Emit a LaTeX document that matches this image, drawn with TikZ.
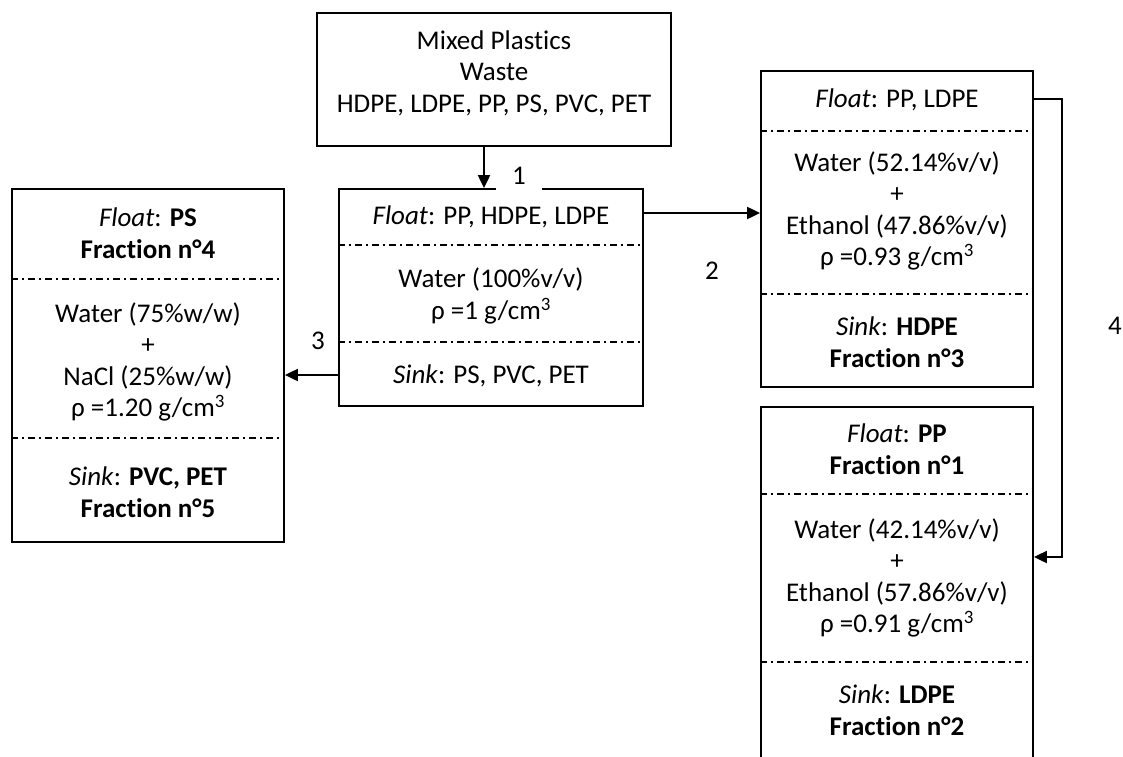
\documentclass[tikz,border=0pt]{standalone}
\usepackage{fontspec}
\setmainfont[Ligatures=NoCommon]{Carlito}
\usetikzlibrary{arrows.meta}

\begin{document}
\begin{tikzpicture}[x=1pt,y=-1pt,>={Triangle[length=13pt,width=12pt]},
  bath/.style={draw,line width=1.8pt,inner sep=0pt},
  txt/.style={align=center,font=\fontsize{27}{31.5}\selectfont},
  sep/.style={line width=1.3pt,dash pattern=on 7pt off 4pt on 2pt off 4pt},
  flow/.style={->,line width=2pt},
  num/.style={font=\fontsize{27}{31.5}\selectfont}]
\useasboundingbox[clip] (0,0) rectangle (1123,756);

% Mixed waste
\node[bath,minimum width=354pt,minimum height=133pt] (waste) at (494,79.5) {};
\node[txt] (wastetxt) at (494,73) {Mixed Plastics\\Waste\\HDPE, LDPE, PP, PS, PVC, PET};

% Bath 1: water
\node[bath,minimum width=304pt,minimum height=217pt] (bath1) at (491,297.5) {};
\draw[sep] (bath1.west |- 0,245) -- (bath1.east |- 0,245);
\draw[sep] (bath1.west |- 0,342) -- (bath1.east |- 0,342);
\node[txt] (b1float) at (491,217) {\textit{Float}: PP, HDPE, LDPE};
\node[txt] (b1mix) at (491,296) {Water (100\%v/v)\\ρ =1 g/cm\textsuperscript{3}};
\node[txt] (b1sink) at (491,376) {\textit{Sink}: PS, PVC, PET};

% Bath 3: water + NaCl
\node[bath,minimum width=272pt,minimum height=353pt] (bath3) at (148,365.5) {};
\draw[sep] (bath3.west |- 0,279) -- (bath3.east |- 0,279);
\draw[sep] (bath3.west |- 0,438) -- (bath3.east |- 0,438);
\node[txt] (b3float) at (148,233) {\textit{Float}: \textbf{PS}\\\textbf{Fraction n°4}};
\node[txt] (b3mix) at (148,362) {Water (75\%w/w)\\+\\NaCl (25\%w/w)\\ρ =1.20 g/cm\textsuperscript{3}};
\node[txt] (b3sink) at (148,492) {\textit{Sink}: \textbf{PVC, PET}\\\textbf{Fraction n°5}};

% Bath 2: water + ethanol
\node[bath,minimum width=272pt,minimum height=316pt] (bath2) at (897,229) {};
\draw[sep] (bath2.west |- 0,131) -- (bath2.east |- 0,131);
\draw[sep] (bath2.west |- 0,294) -- (bath2.east |- 0,294);
\node[txt] (b2float) at (897,100) {\textit{Float}: PP, LDPE};
\node[txt] (b2mix) at (897,211) {Water (52.14\%v/v)\\+\\Ethanol (47.86\%v/v)\\ρ =0.93 g/cm\textsuperscript{3}};
\node[txt] (b2sink) at (897,342) {\textit{Sink}: \textbf{HDPE}\\\textbf{Fraction n°3}};

% Bath 4: water + ethanol
\node[bath,minimum width=272pt,minimum height=351pt] (bath4) at (897,582.5) {};
\draw[sep] (bath4.west |- 0,494) -- (bath4.east |- 0,494);
\draw[sep] (bath4.west |- 0,662) -- (bath4.east |- 0,662);
\node[txt] (b4float) at (897,449) {\textit{Float}: \textbf{PP}\\\textbf{Fraction n°1}};
\node[txt] (b4mix) at (897,578) {Water (42.14\%v/v)\\+\\Ethanol (57.86\%v/v)\\ρ =0.91 g/cm\textsuperscript{3}};
\node[txt] (b4sink) at (897,710) {\textit{Sink}: \textbf{LDPE}\\\textbf{Fraction n°2}};

% Flows
\draw[flow] ([xshift=-10pt]waste.south) -- ([xshift=-10pt]waste.south |- bath1.north);
\node[num,fill=white,minimum width=46pt,minimum height=30pt,inner sep=0pt] (lbl1) at (519,176) {1};
\draw[flow] (bath1.east |- 0,213) -- (bath2.west |- 0,213);
\node[num] (lbl2) at (712,271) {2};
\draw[flow] (bath1.west |- 0,375) -- (bath3.east |- 0,375);
\node[num] (lbl3) at (318,341) {3};
\coordinate (turn) at (1062,99);
\draw[flow] (bath2.east |- turn) -- (turn) |- (bath4.east |- 0,557);
\node[num] (lbl4) at (1115,326) {4};
\end{tikzpicture}
\end{document}
